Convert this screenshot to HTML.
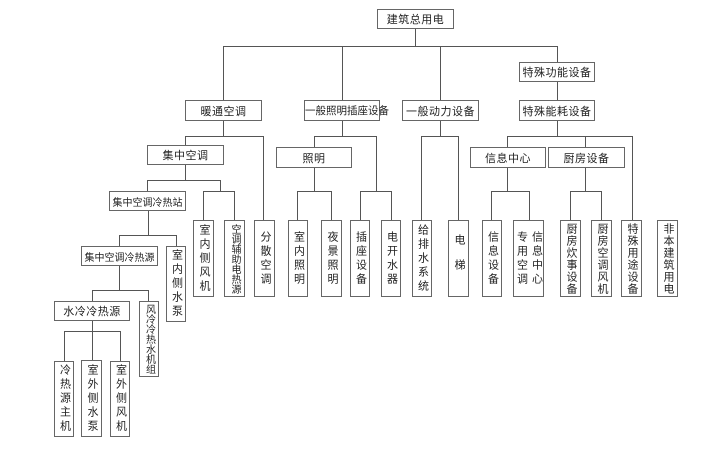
<!DOCTYPE html>
<html><head><meta charset="utf-8"><style>
body{margin:0;width:720px;height:451px;background:#fff;position:relative;overflow:hidden;font-family:"Liberation Sans","Noto Sans CJK SC",sans-serif;}
.b{position:absolute;box-sizing:border-box;border:1px solid #666;background:#fff;display:flex;align-items:center;justify-content:center;font-size:11px;color:#222;letter-spacing:0.5px;white-space:nowrap;}
.v{writing-mode:vertical-rl;line-height:13px;letter-spacing:3px;font-size:11px;}
.s6{letter-spacing:1px}
.s7{letter-spacing:0;font-size:10px}
.h7{letter-spacing:0;font-size:10px}
svg{position:absolute;left:0;top:0}
</style></head><body>
<svg width="720" height="451"><g stroke="#555" stroke-width="1" fill="none" shape-rendering="crispEdges">
<path d="M415.5 28V46.5M223.5 46.5H557.5M223.5 46V100M342.5 46V100M440.5 46V100M557.5 46V62M557.5 81V100"/>
<path d="M223.5 120V136.5M185.5 136.5H263.5M185.5 136V145M263.5 136V220"/>
<path d="M185.5 164V180.5M147.5 180.5H220.5M147.5 180V191M220.5 180V191.5M203.5 191.5H234.5M203.5 191V220M234.5 191V220"/>
<path d="M148.5 210V235.5M119.5 235.5H176.5M119.5 235V246M176.5 235V246"/>
<path d="M119.5 265V290.5M92.5 290.5H148.5M148.5 290V301M92.5 290V301"/>
<path d="M92.5 320V331.5M64.5 331.5H120.5M64.5 331V361M92.5 331V361M120.5 331V361"/>
<path d="M342.5 120V136.5M314.5 136.5H376.5M314.5 136V147M376.5 136V191.5M314.5 167V191.5M297.5 191.5H331.5M297.5 191V220M331.5 191V220M360.5 191.5H391.5M360.5 191V220M391.5 191V220"/>
<path d="M440.5 120V136.5M421.5 136.5H458.5M421.5 136V220M458.5 136V220"/>
<path d="M557.5 120V136.5M507.5 136.5H632.5M507.5 136V147M585.5 136V147M632.5 136V220"/>
<path d="M507.5 167V191.5M491.5 191.5H529.5M491.5 191V220M529.5 191V220M585.5 167V191.5M570.5 191.5H601.5M570.5 191V220M601.5 191V220"/>
</g></svg>
<div class="b" style="left:377px;top:9px;width:77px;height:20px">建筑总用电</div>
<div class="b" style="left:185px;top:100px;width:77px;height:21px">暖通空调</div>
<div class="b" style="left:304px;top:100px;width:76px;height:21px;justify-content:flex-start;letter-spacing:0;font-size:10.5px">一般照明插座设备</div>
<div class="b" style="left:402px;top:100px;width:77px;height:21px">一般动力设备</div>
<div class="b" style="left:519px;top:62px;width:76px;height:20px">特殊功能设备</div>
<div class="b" style="left:519px;top:100px;width:76px;height:21px">特殊能耗设备</div>
<div class="b" style="left:147px;top:145px;width:77px;height:20px">集中空调</div>
<div class="b h7" style="left:109px;top:191px;width:77px;height:20px">集中空调冷热站</div>
<div class="b h7" style="left:81px;top:246px;width:77px;height:20px">集中空调冷热源</div>
<div class="b" style="left:54px;top:301px;width:76px;height:20px">水冷冷热源</div>
<div class="b" style="left:276px;top:147px;width:76px;height:21px">照明</div>
<div class="b" style="left:470px;top:147px;width:76px;height:21px">信息中心</div>
<div class="b" style="left:548px;top:147px;width:77px;height:21px">厨房设备</div>

<div class="b v" style="left:193px;top:220px;width:21px;height:77px">室内侧风机</div>
<div class="b v s7" style="left:224px;top:220px;width:21px;height:77px">空调辅助电热源</div>
<div class="b v" style="left:254px;top:220px;width:21px;height:77px">分散空调</div>
<div class="b v" style="left:166px;top:246px;width:20px;height:76px">室内侧水泵</div>
<div class="b v s7" style="left:139px;top:301px;width:20px;height:76px">风冷冷热水机组</div>
<div class="b v" style="left:54px;top:361px;width:20px;height:76px">冷热源主机</div>
<div class="b v" style="left:81px;top:360px;width:21px;height:77px">室外侧水泵</div>
<div class="b v" style="left:110px;top:361px;width:20px;height:76px">室外侧风机</div>
<div class="b v" style="left:288px;top:220px;width:20px;height:77px">室内照明</div>
<div class="b v" style="left:321px;top:220px;width:21px;height:77px">夜景照明</div>
<div class="b v" style="left:350px;top:220px;width:20px;height:77px">插座设备</div>
<div class="b v" style="left:381px;top:220px;width:20px;height:77px">电开水器</div>
<div class="b v" style="left:412px;top:220px;width:20px;height:77px">给排水系统</div>
<div class="b v" style="left:448px;top:220px;width:21px;height:77px;letter-spacing:14px">电梯</div>
<div class="b v" style="left:482px;top:220px;width:20px;height:77px">信息设备</div>
<div class="b v" style="left:513px;top:220px;width:31px;height:77px;line-height:15px">信息中心<br>专用空调</div>
<div class="b v s6" style="left:560px;top:220px;width:21px;height:77px">厨房炊事设备</div>
<div class="b v s6" style="left:591px;top:220px;width:21px;height:77px">厨房空调风机</div>
<div class="b v s6" style="left:621px;top:220px;width:21px;height:77px">特殊用途设备</div>
<div class="b v s6" style="left:657px;top:220px;width:21px;height:77px">非本建筑用电</div>
</body></html>
